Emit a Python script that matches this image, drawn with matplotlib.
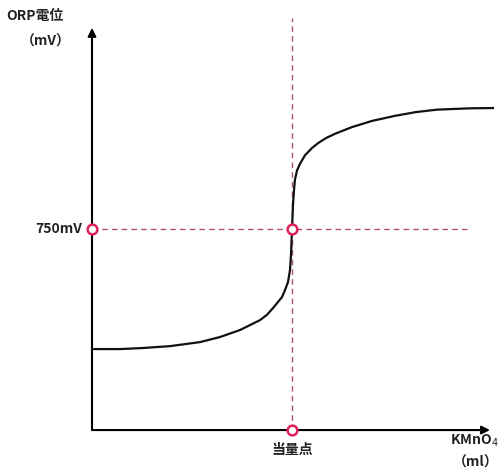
import matplotlib
matplotlib.use("Agg")
import matplotlib.pyplot as plt

plt.rcParams['font.family'] = ['Noto Sans CJK JP', 'DejaVu Sans']

# Titration curve (KMnO4 volume in ml vs ORP potential in mV)
volume_ml = [0, 1.4, 2.55, 3.9, 5.4, 6.4, 7.4, 8.4, 8.75, 9.05, 9.5, 9.65, 9.8, 9.9,
             9.95, 10.0, 10.05, 10.1, 10.15, 10.25, 10.4, 10.65, 11.0, 11.3, 11.7,
             12.15, 13.0, 14.0, 15.15, 16.2, 17.25, 18.9, 20.05]
orp_mv = [302, 302, 306, 313, 328, 347, 373, 410, 430, 455, 496, 522, 552, 597,
          653, 750, 840, 896, 935, 968, 993, 1025, 1052, 1070, 1089,
          1105, 1130, 1153, 1172, 1186, 1195, 1200, 1201]

equiv_ml = 10.0
equiv_mv = 750
y_label = "ORP電位"
y_unit = "（mV）"
x_label = "KMnO$_4$"
x_unit = "（ml）"
equiv_label = "当量点"
mv_label = "750mV"

fig = plt.figure(figsize=(5.0, 4.7), dpi=100)
ax = fig.add_axes([0, 0, 1, 1])
ax.set_xlim(-4.6, 20.4)
ax.set_ylim(-149, 1604)
ax.axis('off')

pink = '#b0507a'
red = '#e0205a'
txt = '#222222'

# axes arrows
ax.annotate('', xy=(0, 1500), xytext=(0, 0),
            arrowprops=dict(arrowstyle='-|>', color='black', lw=1.5,
                            mutation_scale=12, shrinkA=0, shrinkB=0))
ax.annotate('', xy=(19.9, 0), xytext=(0, 0),
            arrowprops=dict(arrowstyle='-|>', color='black', lw=1.5,
                            mutation_scale=12, shrinkA=0, shrinkB=0))

# dashed guides
ax.plot([0, 18.9], [equiv_mv, equiv_mv], ls=(0, (4, 3)), color=pink, lw=1.0, zorder=2)
ax.plot([equiv_ml, equiv_ml], [0, 1537], ls=(0, (4, 3)), color=pink, lw=1.0, zorder=2)

# curve
ax.plot(volume_ml, orp_mv, color='#111111', lw=1.6, zorder=3,
        solid_joinstyle='round')

# markers
ax.plot([0, equiv_ml, equiv_ml], [equiv_mv, equiv_mv, 0], 'o', ms=7,
        mfc='white', mec=red, mew=1.8, zorder=5)

# texts
fs = 10
ax.text(-4.3, 1544, y_label, fontsize=fs, fontweight='bold', color=txt,
        ha='left', va='center')
ax.text(-2.3, 1447, y_unit, fontsize=fs, fontweight='bold', color=txt,
        ha='center', va='center')
ax.text(-0.5, equiv_mv, mv_label, fontsize=fs, fontweight='bold', color=txt,
        ha='right', va='center')
ax.text(equiv_ml, -75, equiv_label, fontsize=fs, fontweight='bold', color=txt,
        ha='center', va='center')
ax.text(17.9, -41, x_label, fontsize=fs, fontweight='bold', color=txt,
        ha='left', va='center')
ax.text(19.2, -123, x_unit, fontsize=fs, fontweight='bold', color=txt,
        ha='center', va='center')

fig.savefig('out.png', dpi=100)
